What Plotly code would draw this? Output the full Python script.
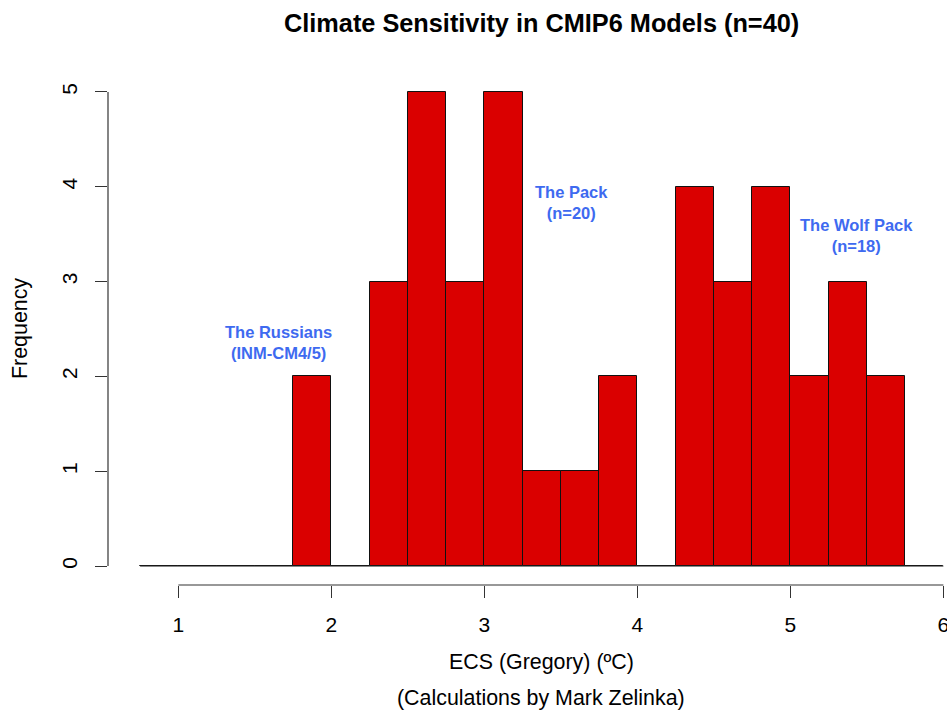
import plotly.graph_objects as go
import numpy as np

# Histogram bins (ECS, Gregory method), width 0.25
bin_edges = [0.75, 1.0, 1.25, 1.5, 1.75, 2.0, 2.25, 2.5, 2.75, 3.0, 3.25,
             3.5, 3.75, 4.0, 4.25, 4.5, 4.75, 5.0, 5.25, 5.5, 5.75, 6.0]
counts = [0, 0, 0, 0, 2, 0, 3, 5, 3, 5, 1, 1, 2, 0, 4, 3, 4, 2, 3, 2, 0]

x_ticks = [1, 2, 3, 4, 5, 6]
y_ticks = [0, 1, 2, 3, 4, 5]

labels = ["The Russians<br>(INM-CM4/5)", "The Pack<br>(n=20)", "The Wolf Pack<br>(n=18)"]
label_x = [1.655, 3.57, 5.43]
label_y = [2.36, 3.83, 3.49]

title = "Climate Sensitivity in CMIP6 Models (n=40)"
xlab1 = "ECS (Gregory) (ºC)"
xlab2 = "(Calculations by Mark Zelinka)"
ylab = "Frequency"

edges = np.array(bin_edges)
centers = (edges[:-1] + edges[1:]) / 2
widths = np.diff(edges)

FONT = "Liberation Sans, Arial, Helvetica, sans-serif"
AX = "#333333"
PLOT_W = 839
CX = (541 - 108) / PLOT_W  # horizontal centre of the (uncropped) R plot region

fig = go.Figure()
# baseline drawn by zero-height bins
fig.add_trace(go.Scatter(x=[edges[0], edges[-1]], y=[0, 0], mode="lines",
                         line=dict(color="#222222", width=1), hoverinfo="skip",
                         showlegend=False))
fig.add_trace(go.Bar(x=centers, y=counts, width=widths,
                     marker=dict(color="#DA0000", line=dict(color="#111111", width=1)),
                     showlegend=False))

for t, xx, yy in zip(labels, label_x, label_y):
    fig.add_annotation(x=xx, y=yy, text="<b>" + t + "</b>", showarrow=False,
                       font=dict(family=FONT, size=16.5, color="#3E6AF0"),
                       xanchor="center", yanchor="middle")

fig.add_annotation(xref="paper", yref="paper", x=CX, y=0,
                   text=xlab1, showarrow=False, yanchor="middle", yshift=-77,
                   font=dict(family=FONT, size=21.4, color="black"))
fig.add_annotation(xref="paper", yref="paper", x=CX, y=0,
                   text=xlab2, showarrow=False, yanchor="middle", yshift=-113,
                   font=dict(family=FONT, size=21.4, color="black"))
fig.add_annotation(xref="paper", yref="paper", x=0, y=0.5, xshift=-88,
                   text=ylab, showarrow=False, textangle=-90,
                   xanchor="center", yanchor="middle",
                   font=dict(family=FONT, size=21.4, color="black"))
fig.add_annotation(xref="paper", yref="paper", x=CX, y=1,
                   yshift=50, text="<b>" + title + "</b>", showarrow=False,
                   yanchor="middle", font=dict(family=FONT, size=25.3, color="black"))

# R-style axis lines spanning the tick range only
fig.add_shape(type="line", xref="x", yref="paper", x0=x_ticks[0], x1=x_ticks[-1],
              y0=0, y1=0, line=dict(color=AX, width=1.2))
fig.add_shape(type="line", xref="paper", yref="y", x0=0, x1=0,
              y0=y_ticks[0], y1=y_ticks[-1], line=dict(color=AX, width=1.2))

fig.update_xaxes(range=[0.54, 0.54 + PLOT_W / 153], tickvals=x_ticks,
                 ticktext=[str(v) for v in x_ticks], ticks="outside", ticklen=12,
                 tickwidth=1.2, tickcolor=AX, showgrid=False, zeroline=False,
                 showline=False, automargin=False, ticklabelstandoff=9,
                 ticklabeloverflow="allow",
                 tickfont=dict(family=FONT, size=21, color="black"))
fig.update_yaxes(range=[-0.2, 5.2], tickvals=y_ticks,
                 ticktext=[str(v) for v in y_ticks], ticks="outside", ticklen=12,
                 tickwidth=1.2, tickcolor=AX, showgrid=False, zeroline=False,
                 showline=False, automargin=False, tickangle=-90,
                 ticklabelstandoff=10,
                 tickfont=dict(family=FONT, size=21, color="black"))

fig.update_layout(width=947, height=711, plot_bgcolor="white", paper_bgcolor="white",
                  margin=dict(l=108, r=0, t=73, b=126), bargap=0,
                  font=dict(family=FONT))

# remove the default page margin so the figure fills the window exactly
fig.write_html("out.html",
               config={"displayModeBar": False},
               post_script="document.body.style.margin='0';"
                           "document.body.style.overflow='hidden';")
